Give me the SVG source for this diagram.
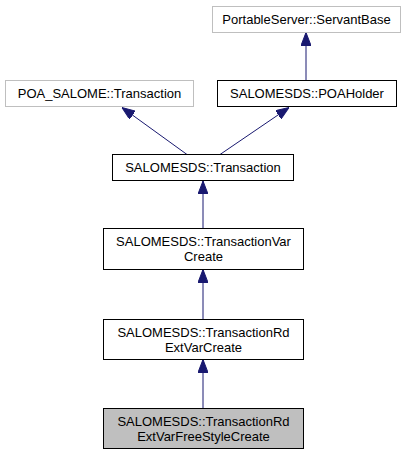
<svg xmlns="http://www.w3.org/2000/svg" width="408" height="455" viewBox="0 0 408 455">
<style>
.box{fill:#ffffff;stroke:#000000;stroke-width:1}
.ext{fill:#ffffff;stroke:#bfbfbf;stroke-width:1}
.cur{fill:#bfbfbf;stroke:#000000;stroke-width:1}
text{font-family:"Liberation Sans",Arial,sans-serif;font-size:13px;text-anchor:middle;fill:#000000}
.edge{stroke:#191970;stroke-width:1;fill:none}
</style>
<defs>
<marker id="arr" viewBox="0 0 13 10" refX="13" refY="5" markerWidth="13" markerHeight="10" markerUnits="userSpaceOnUse" orient="auto">
<path d="M0,0 L13,5 L0,10 z" fill="#191970" stroke="#191970" stroke-width="1"/>
</marker>
</defs>
<rect width="408" height="455" fill="#ffffff"/>
<g id="connectors">
<line class="edge" x1="306" y1="80" x2="306" y2="32.5" marker-end="url(#arr)"/>
<line class="edge" x1="187" y1="154.5" x2="122" y2="107.5" marker-end="url(#arr)"/>
<line class="edge" x1="220" y1="154.5" x2="289" y2="107.5" marker-end="url(#arr)"/>
<line class="edge" x1="203" y1="228" x2="203" y2="181" marker-end="url(#arr)"/>
<line class="edge" x1="203" y1="319" x2="203" y2="269.5" marker-end="url(#arr)"/>
<line class="edge" x1="203" y1="408" x2="203" y2="359.5" marker-end="url(#arr)"/>
</g>
<g id="node-servantbase">
<rect class="ext" x="212.5" y="6.5" width="188" height="26"/>
<text x="306.5" y="24">PortableServer::ServantBase</text>
</g>
<g id="node-poa-salome-transaction">
<rect class="ext" x="5.5" y="80.5" width="188" height="26"/>
<text x="99.5" y="98">POA_SALOME::Transaction</text>
</g>
<g id="node-poaholder">
<rect class="box" x="217.5" y="80.5" width="179" height="26"/>
<text x="307" y="98">SALOMESDS::POAHolder</text>
</g>
<g id="node-transaction">
<rect class="box" x="112.5" y="154.5" width="181" height="26"/>
<text x="203" y="172">SALOMESDS::Transaction</text>
</g>
<g id="node-transactionvarcreate">
<rect class="box" x="103.5" y="228.5" width="200" height="41"/>
<text x="203.5" y="246">SALOMESDS::TransactionVar</text>
<text x="203.5" y="261">Create</text>
</g>
<g id="node-transactionrdextvarcreate">
<rect class="box" x="103.5" y="319.5" width="200" height="40"/>
<text x="203.5" y="337">SALOMESDS::TransactionRd</text>
<text x="203.5" y="352">ExtVarCreate</text>
</g>
<g id="node-transactionrdextvarfreestylecreate">
<rect class="cur" x="103.5" y="408.5" width="200" height="40"/>
<text x="203.5" y="426">SALOMESDS::TransactionRd</text>
<text x="203.5" y="441">ExtVarFreeStyleCreate</text>
</g>
</svg>
